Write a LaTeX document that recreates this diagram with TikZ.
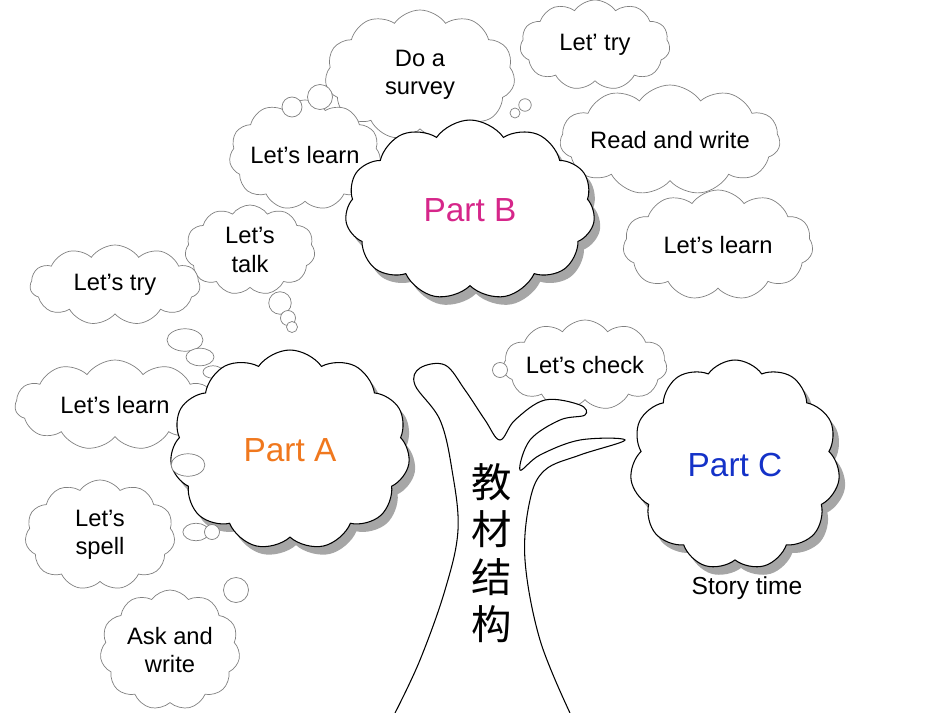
\documentclass[tikz,border=0pt]{standalone}
\usepackage{fontspec}
\setmainfont{Liberation Sans}
\newfontfamily\cjk{Noto Sans CJK SC}
\usetikzlibrary{shapes.symbols}
\tikzset{
  cl/.style={cloud,cloud puffs=11,cloud puff arc=110,cloud ignores aspect,draw=gray,thin,fill=white,
    align=center,font=\fontsize{13.5}{16}\selectfont,inner sep=0pt},
  big/.style={cl,draw=black,line width=.6pt,font=\fontsize{19}{22}\selectfont},
  shade/.style={cloud,cloud puffs=11,cloud puff arc=110,cloud ignores aspect,fill=gray!70,draw=none},
  bub/.style={circle,draw=gray,thin,fill=white,inner sep=0pt},
}
\newcommand{\bigcl}[6]{%
\node[shade,minimum width=#4cm,minimum height=#5cm] at (#2+6,#3+8) {};
\node[big,minimum width=#4cm,minimum height=#5cm] (#1) at (#2,#3) {#6};}
\begin{document}
\begin{tikzpicture}[x=0.02cm,y=-0.02cm]
\useasboundingbox (0,0) rectangle (950,713);
% upper clouds
\node[cl,minimum width=3.8cm,minimum height=2.6cm] (survey) at (420,75) {Do a\\survey};
\node[cl,minimum width=3cm,minimum height=1.8cm] (ltry) at (595,45) {Let’ try};
\node[cl,minimum width=3cm,minimum height=2.2cm] (learnb) at (305,155) {Let’s learn};
\node[cl,minimum width=3.8cm,minimum height=2.2cm] (readw) at (670,140) {Read and write};
\node[cl,minimum width=3.8cm,minimum height=2.2cm] (learnr) at (718,245) {Let's learn};
\node[bub,minimum size=.4cm] (b1) at (292,107) {};
\node[bub,minimum size=.5cm] (b2) at (320,97) {};
\node[bub,minimum size=.25cm] (b3) at (525,105) {};
\node[bub,minimum size=.2cm] (b4) at (515,113) {};
\bigcl{partb}{470}{210}{5}{3.6}{\color[HTML]{D6268A}Part B}
% left clouds
\node[cl,minimum width=2.6cm,minimum height=1.8cm] (talk) at (250,250) {Let’s\\talk};
\node[bub,minimum size=.45cm] (b5) at (280,303) {};
\node[bub,minimum size=.3cm] (b6) at (288,318) {};
\node[bub,minimum size=.22cm] (b7) at (292,327) {};
\node[cl,minimum width=3.4cm,minimum height=1.6cm] (try) at (115,285) {Let’s try};
\node[bub,minimum size=.45cm,xscale=1.6] (b8) at (185,340) {};
\node[bub,minimum size=.35cm,xscale=1.6] (b9) at (200,357) {};
\node[bub,minimum size=.25cm,xscale=1.6] (b10) at (213,372) {};
\node[cl,minimum width=4cm,minimum height=1.8cm] (learna) at (115,405) {Let’s learn};
\node[cl,minimum width=3cm,minimum height=2.2cm] (spell) at (100,535) {Let’s\\spell};
\node[cl,minimum width=2.8cm,minimum height=2.4cm] (ask) at (170,650) {Ask and\\write};
\node[bub,minimum size=.5cm] (b11) at (236,590) {};
\bigcl{parta}{290}{450}{4.8}{4}{\color[HTML]{F0781E}Part A}
\node[bub,minimum size=.45cm,xscale=1.5] (b12) at (188,465) {};
\node[bub,minimum size=.35cm,xscale=1.5] (b13) at (196,532) {};
\node[bub,minimum size=.3cm] (b14) at (212,532) {};
% right clouds
\node[cl,minimum width=3cm,minimum height=1.8cm] (check) at (585,365) {Let's check};
\node[bub,minimum size=.3cm] (b15) at (500,370) {};
\bigcl{partc}{735}{465}{4.2}{4.2}{\color[HTML]{1432C8}Part C}
\node[font=\fontsize{14}{16}\selectfont] (story) at (747,588) {Story time};
% tree
\draw[line width=.6pt,fill=white] plot[smooth,tension=.6] coordinates{
 (395,713) (420,660) (445,590) (458,530) (452,470) (440,420) (415,385) (420,368) (445,365) (465,390)
 (485,420) (500,440) (515,420) (545,400) (580,405) (585,415) (560,420) (530,440) (520,470)
 (540,455) (580,440) (625,440) (580,455) (545,470) (530,500) (525,560) (540,640) (570,713)};
\node[font=\cjk\fontsize{23}{27}\selectfont,align=center] (zi) at (492,553) {教\\材\\结\\构};
\end{tikzpicture}
\end{document}
